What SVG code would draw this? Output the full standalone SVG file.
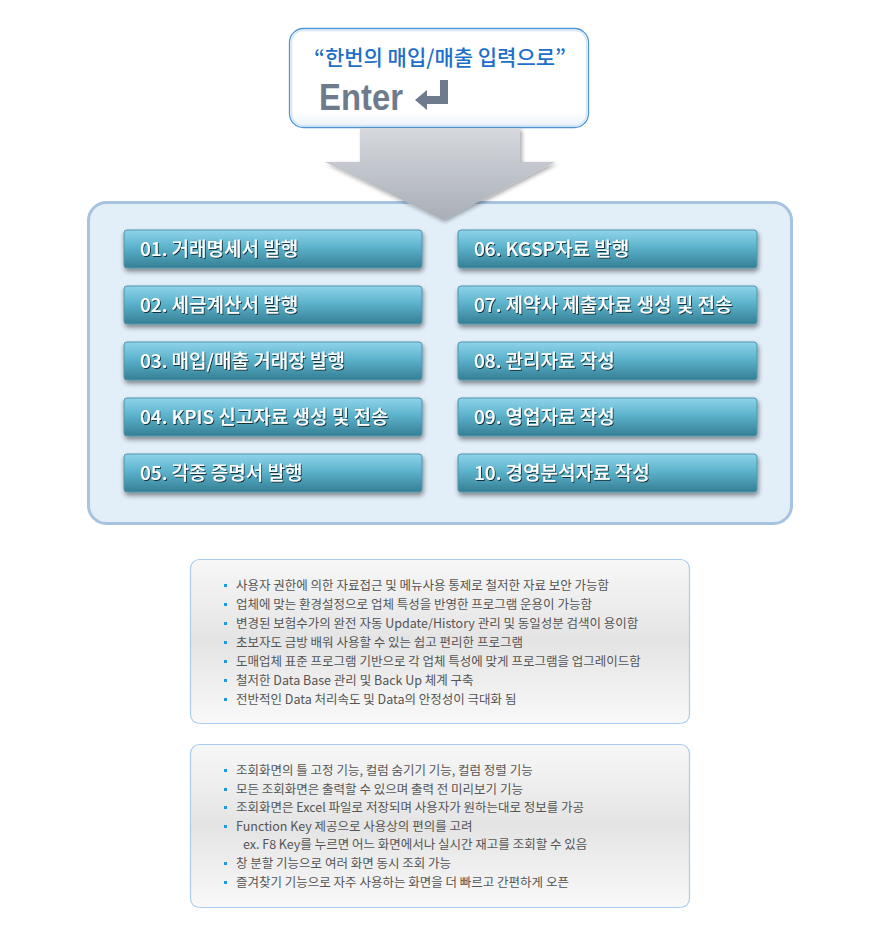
<svg xmlns="http://www.w3.org/2000/svg" width="880" height="940" viewBox="0 0 880 940">
<defs>
<linearGradient id="topg" x1="0" y1="0" x2="0" y2="1"><stop offset="0" stop-color="#ffffff"/><stop offset="0.85" stop-color="#ffffff"/><stop offset="1" stop-color="#e8f1fa"/></linearGradient>
<linearGradient id="arrg" x1="0" y1="0" x2="0" y2="1"><stop offset="0" stop-color="#d6d9de"/><stop offset="1" stop-color="#a9aeb6"/></linearGradient>
<linearGradient id="btng" x1="0" y1="0" x2="0" y2="1"><stop offset="0" stop-color="#8fd3ea"/><stop offset="0.45" stop-color="#5cb3cc"/><stop offset="1" stop-color="#357f94"/></linearGradient>
<linearGradient id="boxg" x1="0" y1="0" x2="0" y2="1"><stop offset="0" stop-color="#f7f7f7"/><stop offset="0.5" stop-color="#e4e4e4"/><stop offset="1" stop-color="#f9f9f9"/></linearGradient>
<filter id="sh" x="-5%" y="-20%" width="110%" height="150%"><feGaussianBlur in="SourceAlpha" stdDeviation="2.5"/><feOffset dx="1" dy="3"/><feComponentTransfer><feFuncA type="linear" slope="0.45"/></feComponentTransfer><feMerge><feMergeNode/><feMergeNode in="SourceGraphic"/></feMerge></filter>
<filter id="ash" x="-10%" y="-10%" width="120%" height="130%"><feGaussianBlur in="SourceAlpha" stdDeviation="2"/><feOffset dx="2" dy="2"/><feComponentTransfer><feFuncA type="linear" slope="0.35"/></feComponentTransfer><feMerge><feMergeNode/><feMergeNode in="SourceGraphic"/></feMerge></filter>
<filter id="tsh"><feGaussianBlur in="SourceAlpha" stdDeviation="0.6"/><feOffset dx="1" dy="1"/><feComponentTransfer><feFuncA type="linear" slope="0.7"/></feComponentTransfer><feMerge><feMergeNode/><feMergeNode in="SourceGraphic"/></feMerge></filter>
</defs>
<style>
.btn{fill:url(#btng);stroke:#4d96ab;stroke-width:1}
.bt{font-family:"Noto Sans CJK KR","Noto Sans",sans-serif;font-size:19px;fill:#ffffff;font-weight:500}
.box{fill:url(#boxg);stroke:#a9cdee;stroke-width:1.2}
.li{font-family:"Noto Sans CJK KR","Noto Sans",sans-serif;font-size:12.5px;fill:#555555}
.bu{fill:#1a9be0}
</style>
<rect width="880" height="940" fill="#ffffff"/>

<g id="main-panel">
<rect x="88.5" y="202.5" width="703" height="321" rx="18" fill="#e2eef8" stroke="#a6c3e0" stroke-width="3"/>
</g>

<g id="enter-box">
<rect x="289.5" y="28.5" width="299" height="99" rx="14" fill="url(#topg)" stroke="#4e95d6" stroke-width="1.3"/>
<rect x="291.5" y="30.5" width="295" height="95" rx="12" fill="none" stroke="#d6e8f8" stroke-width="1.5"/>
<text x="440" y="65" text-anchor="middle" font-family="Noto Sans CJK KR,sans-serif" font-size="21" font-weight="500" fill="#1d6fc9">“한번의 매입/매출 입력으로”</text>
<text x="319" y="110" font-family="Liberation Sans,Arial,sans-serif" font-size="37" font-weight="bold" fill="#6e7b8d" textLength="84" lengthAdjust="spacingAndGlyphs">Enter</text>
<path d="M440 80 H448 V104 H427 V110 L415 100 L427 90 V96 H440 Z" fill="#6e7b8d"/>
</g>

<g id="connectors">
<path d="M360 128 H520 V162 H555 L443 220 L325 162 H360 Z" fill="url(#arrg)" filter="url(#ash)"/>
</g>

<g id="item01" filter="url(#sh)"><rect class="btn" x="124" y="230" width="298" height="38" rx="3"/><text class="bt" x="140" y="256" filter="url(#tsh)">01. 거래명세서 발행</text></g>
<g id="item02" filter="url(#sh)"><rect class="btn" x="124" y="286" width="298" height="38" rx="3"/><text class="bt" x="140" y="312" filter="url(#tsh)">02. 세금계산서 발행</text></g>
<g id="item03" filter="url(#sh)"><rect class="btn" x="124" y="342" width="298" height="38" rx="3"/><text class="bt" x="140" y="368" filter="url(#tsh)">03. 매입/매출 거래장 발행</text></g>
<g id="item04" filter="url(#sh)"><rect class="btn" x="124" y="398" width="298" height="38" rx="3"/><text class="bt" x="140" y="424" filter="url(#tsh)">04. KPIS 신고자료 생성 및 전송</text></g>
<g id="item05" filter="url(#sh)"><rect class="btn" x="124" y="454" width="298" height="38" rx="3"/><text class="bt" x="140" y="480" filter="url(#tsh)">05. 각종 증명서 발행</text></g>
<g id="item06" filter="url(#sh)"><rect class="btn" x="458" y="230" width="299" height="38" rx="3"/><text class="bt" x="474" y="256" filter="url(#tsh)">06. KGSP자료 발행</text></g>
<g id="item07" filter="url(#sh)"><rect class="btn" x="458" y="286" width="299" height="38" rx="3"/><text class="bt" x="474" y="312" filter="url(#tsh)">07. 제약사 제출자료 생성 및 전송</text></g>
<g id="item08" filter="url(#sh)"><rect class="btn" x="458" y="342" width="299" height="38" rx="3"/><text class="bt" x="474" y="368" filter="url(#tsh)">08. 관리자료 작성</text></g>
<g id="item09" filter="url(#sh)"><rect class="btn" x="458" y="398" width="299" height="38" rx="3"/><text class="bt" x="474" y="424" filter="url(#tsh)">09. 영업자료 작성</text></g>
<g id="item10" filter="url(#sh)"><rect class="btn" x="458" y="454" width="299" height="38" rx="3"/><text class="bt" x="474" y="480" filter="url(#tsh)">10. 경영분석자료 작성</text></g>

<g id="features1">
<rect class="box" x="190.5" y="559.5" width="499" height="164" rx="9"/>
<rect class="bu" x="224" y="584" width="3" height="3"/><text class="li" x="236" y="590">사용자 권한에 의한 자료접근 및 메뉴사용 통제로 철저한 자료 보안 가능함</text>
<rect class="bu" x="224" y="603" width="3" height="3"/><text class="li" x="236" y="609">업체에 맞는 환경설정으로 업체 특성을 반영한 프로그램 운용이 가능함</text>
<rect class="bu" x="224" y="622" width="3" height="3"/><text class="li" x="236" y="628">변경된 보험수가의 완전 자동 Update/History 관리 및 동일성분 검색이 용이함</text>
<rect class="bu" x="224" y="641" width="3" height="3"/><text class="li" x="236" y="647">초보자도 금방 배워 사용할 수 있는 쉽고 편리한 프로그램</text>
<rect class="bu" x="224" y="660" width="3" height="3"/><text class="li" x="236" y="666">도매업체 표준 프로그램 기반으로 각 업체 특성에 맞게 프로그램을 업그레이드함</text>
<rect class="bu" x="224" y="679" width="3" height="3"/><text class="li" x="236" y="685">철저한 Data Base 관리 및 Back Up 체계 구축</text>
<rect class="bu" x="224" y="698" width="3" height="3"/><text class="li" x="236" y="704">전반적인 Data 처리속도 및 Data의 안정성이 극대화 됨</text>
</g>

<g id="features2">
<rect class="box" x="190.5" y="744.5" width="499" height="163" rx="9"/>
<rect class="bu" x="224" y="769" width="3" height="3"/><text class="li" x="236" y="775">조회화면의 틀 고정 기능, 컬럼 숨기기 기능, 컬럼 정렬 기능</text>
<rect class="bu" x="224" y="788" width="3" height="3"/><text class="li" x="236" y="794">모든 조회화면은 출력할 수 있으며 출력 전 미리보기 기능</text>
<rect class="bu" x="224" y="806" width="3" height="3"/><text class="li" x="236" y="812">조회화면은 Excel 파일로 저장되며 사용자가 원하는대로 정보를 가공</text>
<rect class="bu" x="224" y="825" width="3" height="3"/><text class="li" x="236" y="831">Function Key 제공으로 사용상의 편의를 고려</text>
<text class="li" x="243" y="849">ex. F8 Key를 누르면 어느 화면에서나 실시간 재고를 조회할 수 있음</text>
<rect class="bu" x="224" y="862" width="3" height="3"/><text class="li" x="236" y="868">창 분할 기능으로 여러 화면 동시 조회 가능</text>
<rect class="bu" x="224" y="881" width="3" height="3"/><text class="li" x="236" y="887">즐겨찾기 기능으로 자주 사용하는 화면을 더 빠르고 간편하게 오픈</text>
</g>
</svg>
